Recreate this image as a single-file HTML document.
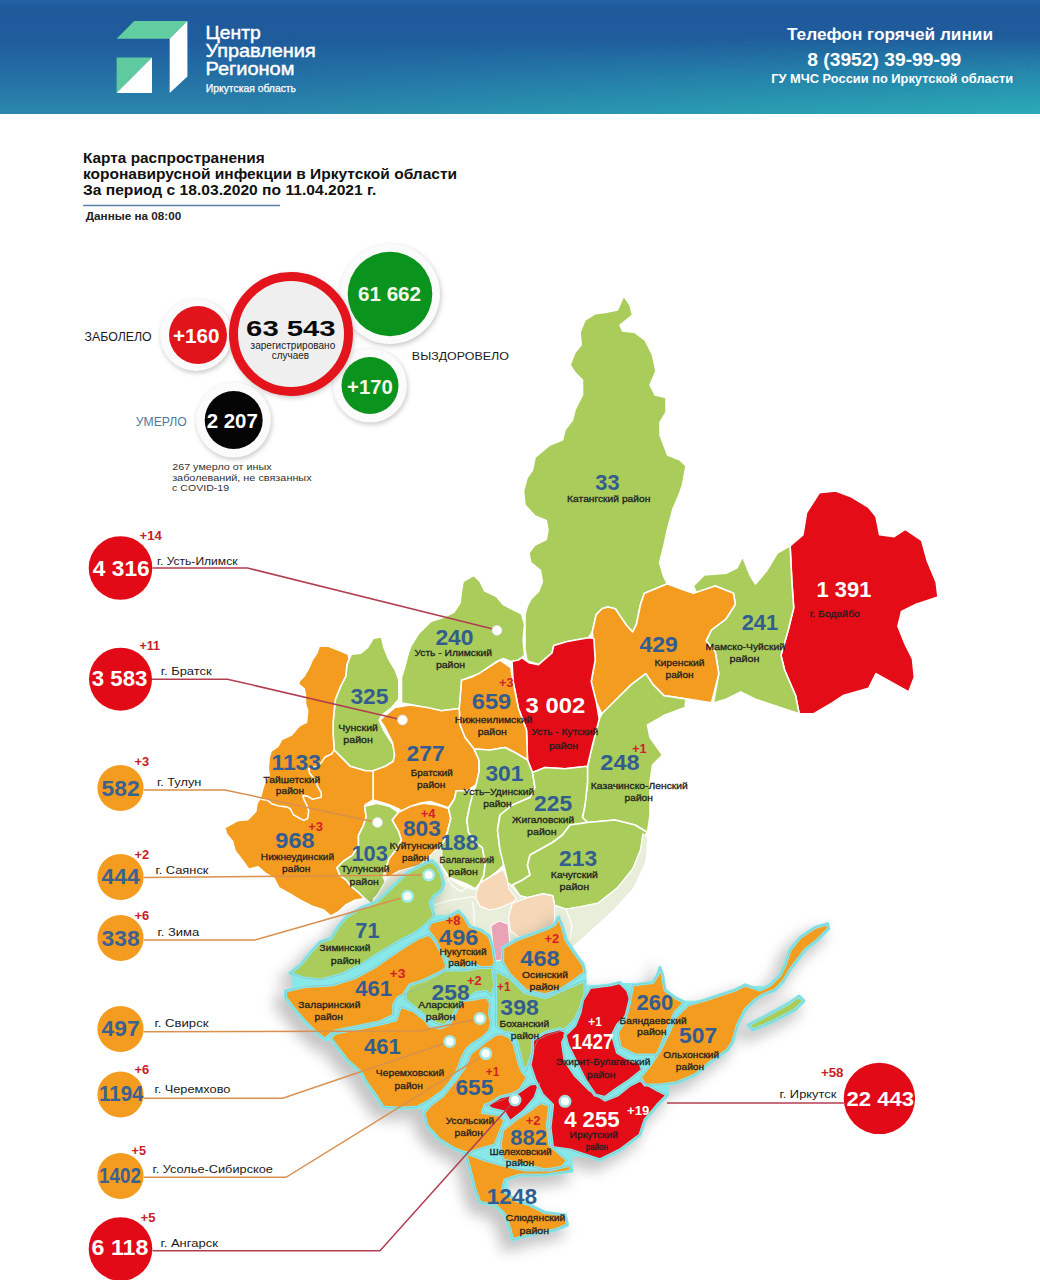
<!DOCTYPE html><html><head><meta charset="utf-8"><style>html,body{margin:0;padding:0;background:#fff;width:1040px;height:1280px;overflow:hidden}svg{display:block}.n{font-family:"Liberation Sans",sans-serif;font-weight:bold;font-size:20px;text-anchor:middle}.d{font-family:"Liberation Sans",sans-serif;font-size:10px;fill:#2a2a2a;text-anchor:middle}.p{font-family:"Liberation Sans",sans-serif;font-weight:bold;font-size:11px;text-anchor:middle}text{font-family:"Liberation Sans",sans-serif}</style></head><body>
<svg width="1040" height="1280" viewBox="0 0 1040 1280">
<defs>
<linearGradient id="hg" x1="0" y1="0" x2="0" y2="1">
<stop offset="0" stop-color="#2563a3"/><stop offset="0.06" stop-color="#1f5a9b"/><stop offset="0.35" stop-color="#1f5c9c"/><stop offset="0.7" stop-color="#2472a6"/><stop offset="1" stop-color="#2a88ab"/>
</linearGradient>
<linearGradient id="hg2" gradientUnits="userSpaceOnUse" x1="0" y1="35" x2="0" y2="114">
<stop offset="0" stop-color="#2ab2b8" stop-opacity="0"/><stop offset="1" stop-color="#2ab2b8" stop-opacity="0.8"/>
</linearGradient>
<linearGradient id="hmg" gradientUnits="userSpaceOnUse" x1="250" y1="0" x2="1040" y2="0">
<stop offset="0" stop-color="#000"/><stop offset="1" stop-color="#fff"/>
</linearGradient>
<mask id="hmask"><rect x="0" y="0" width="1040" height="114" fill="url(#hmg)"/></mask>
<filter id="closef" filterUnits="userSpaceOnUse" x="200" y="800" width="700" height="500"><feMorphology operator="dilate" radius="6"/><feMorphology operator="erode" radius="6"/></filter>
<filter id="sh" x="-30%" y="-30%" width="160%" height="160%"><feGaussianBlur stdDeviation="2.5"/></filter>
<filter id="msh" x="-20%" y="-20%" width="140%" height="140%"><feGaussianBlur stdDeviation="7"/></filter>
</defs>
<rect x="0" y="0" width="1040" height="114" fill="url(#hg)"/>
<rect x="0" y="0" width="1040" height="114" fill="url(#hg2)" mask="url(#hmask)"/>
<polygon points="116.6,38.8 134.2,21.1 187.4,21.1 169.7,38.8" fill="#62cda0"/>
<polygon points="187.4,21.1 187.4,76.4 169.7,93 169.7,38.8" fill="#ffffff"/>
<polygon points="116.6,57.6 152,57.6 116.6,93" fill="#5fcaa0"/>
<polygon points="152,57.6 152,93 116.6,93" fill="#ffffff"/>
<text stroke="#fff" stroke-width="0.45" x="233.10" y="39" font-size="19" fill="#fff" text-anchor="middle" textLength="55.32" lengthAdjust="spacingAndGlyphs">Центр</text>
<text stroke="#fff" stroke-width="0.45" x="260.60" y="57" font-size="19" fill="#fff" text-anchor="middle" textLength="110.32" lengthAdjust="spacingAndGlyphs">Управления</text>
<text stroke="#fff" stroke-width="0.45" x="249.95" y="74.5" font-size="19" fill="#fff" text-anchor="middle" textLength="89.02" lengthAdjust="spacingAndGlyphs">Регионом</text>
<text stroke="#fff" stroke-width="0.25" x="250.90" y="92" font-size="10" fill="#fff" text-anchor="middle" textLength="90.20" lengthAdjust="spacingAndGlyphs">Иркутская область</text>
<text x="890.00" y="40.3" font-size="16" font-weight="bold" fill="#fff" text-anchor="middle" textLength="206.08" lengthAdjust="spacingAndGlyphs">Телефон горячей линии</text>
<text x="884.30" y="65.7" font-size="18" font-weight="bold" fill="#fff" text-anchor="middle" textLength="154.04" lengthAdjust="spacingAndGlyphs">8 (3952) 39-99-99</text>
<text x="892.15" y="82.7" font-size="12" font-weight="bold" fill="#fff" text-anchor="middle" textLength="241.86" lengthAdjust="spacingAndGlyphs">ГУ МЧС России по Иркутской области</text>
<text x="173.85" y="162.5" font-size="14" font-weight="bold" fill="#111" text-anchor="middle" textLength="181.82" lengthAdjust="spacingAndGlyphs">Карта распространения</text>
<text x="270.00" y="178.5" font-size="14" font-weight="bold" fill="#111" text-anchor="middle" textLength="374.12" lengthAdjust="spacingAndGlyphs">коронавирусной инфекции в Иркутской области</text>
<text x="229.65" y="195" font-size="14" font-weight="bold" fill="#111" text-anchor="middle" textLength="293.42" lengthAdjust="spacingAndGlyphs">За период с 18.03.2020 по 11.04.2021 г.</text>
<line x1="83" y1="205.5" x2="280" y2="205.5" stroke="#5a80a8" stroke-width="1.5"/>
<text x="133.50" y="220" font-size="10.5" font-weight="bold" fill="#222" text-anchor="middle" textLength="95.44" lengthAdjust="spacingAndGlyphs">Данные на 08:00</text>
<circle cx="391" cy="296" r="50" fill="#9a9a9a" opacity="0.55" filter="url(#sh)"/><circle cx="390" cy="294" r="50" fill="#fbfbfb"/>
<circle cx="371" cy="387.5" r="37" fill="#9a9a9a" opacity="0.55" filter="url(#sh)"/><circle cx="370" cy="385.5" r="37" fill="#fbfbfb"/>
<circle cx="197" cy="337" r="36" fill="#9a9a9a" opacity="0.55" filter="url(#sh)"/><circle cx="196" cy="335" r="36" fill="#fbfbfb"/>
<circle cx="234.5" cy="422" r="37.5" fill="#9a9a9a" opacity="0.55" filter="url(#sh)"/><circle cx="233.5" cy="420" r="37.5" fill="#fbfbfb"/>
<circle cx="390" cy="294" r="42.3" fill="#0b941d"/>
<circle cx="370" cy="385.5" r="28.5" fill="#0b941d"/>
<circle cx="198" cy="335" r="29" fill="#e1141c"/>
<circle cx="233.7" cy="420" r="29" fill="#050505"/>
<circle cx="292" cy="336" r="62" fill="#999" opacity="0.5" filter="url(#sh)"/>
<circle cx="291" cy="334" r="57.5" fill="#efefef" stroke="#e3141c" stroke-width="9"/>
<text x="196.25" y="343.3" font-size="20" font-weight="bold" fill="#fff" text-anchor="middle" textLength="46.50" lengthAdjust="spacingAndGlyphs">+160</text>
<text x="290.90" y="335.8" font-size="22" font-weight="bold" fill="#0a0a0a" text-anchor="middle" textLength="89.56" lengthAdjust="spacingAndGlyphs">63 543</text>
<text x="292.90" y="349" font-size="11" fill="#222" text-anchor="middle" textLength="84.68" lengthAdjust="spacingAndGlyphs">зарегистрировано</text>
<text x="290.40" y="359" font-size="11" fill="#222" text-anchor="middle" textLength="37.28" lengthAdjust="spacingAndGlyphs">случаев</text>
<text x="389.52" y="301.4" font-size="20" font-weight="bold" fill="#f4f8ea" text-anchor="middle" textLength="63.15" lengthAdjust="spacingAndGlyphs">61 662</text>
<text x="370.00" y="393.7" font-size="20" font-weight="bold" fill="#f4f8ea" text-anchor="middle" textLength="45.80" lengthAdjust="spacingAndGlyphs">+170</text>
<text x="232.25" y="428" font-size="20" font-weight="bold" fill="#fff" text-anchor="middle" textLength="51.10" lengthAdjust="spacingAndGlyphs">2 207</text>
<text x="118.12" y="340.5" font-size="12" fill="#1a1a1a" text-anchor="middle" textLength="67.21" lengthAdjust="spacingAndGlyphs">ЗАБОЛЕЛО</text>
<text x="460.40" y="359.6" font-size="11.5" fill="#1a1a1a" text-anchor="middle" textLength="97.12" lengthAdjust="spacingAndGlyphs">ВЫЗДОРОВЕЛО</text>
<text x="161.25" y="426.25" font-size="12" fill="#4d77a0" text-anchor="middle" textLength="50.96" lengthAdjust="spacingAndGlyphs">УМЕРЛО</text>
<text x="221.88" y="470" font-size="9" fill="#333" text-anchor="middle" textLength="99.47" lengthAdjust="spacingAndGlyphs">267  умерло от иных</text>
<text x="241.88" y="480.5" font-size="9" fill="#333" text-anchor="middle" textLength="139.47" lengthAdjust="spacingAndGlyphs">заболеваний, не связанных</text>
<text x="200.62" y="490.5" font-size="9" fill="#333" text-anchor="middle" textLength="56.97" lengthAdjust="spacingAndGlyphs">с COVID-19</text>
<g stroke="#ffffff" stroke-width="1.6" stroke-linejoin="round">
<polygon points="623.7,296 630,305 632.5,315 620,325 622.5,331 635,332.5 645,340 652.5,355 656,371 650,385 655,395 666,397.5 666,412.5 660,422.5 660,435 667.5,455 680,460 686,466 682.5,485 678.8,495.4 673,508.8 667.3,530 663.5,547.3 659.6,562.7 663.5,576 667.3,583.8 644.2,593.5 640.4,605 636.5,624.2 632.7,632 627,626 619.2,614.6 615.4,608.8 607.7,607 602,608.8 596.2,614.6 592.3,632 588.5,637.7 567.3,641.5 553.8,645.4 552,653 538.5,664.6 527,660.8 525,649.2 525,633.8 525,614.6 527,607 530.8,599.2 538.5,591.5 542.3,582 540.4,570.4 530.8,562.7 528.8,553 534.6,545.4 546.2,539.6 548,530 546.2,520.4 535,516 525,505 523.5,491 527,478 532.5,470 535,457.5 550,445 562.5,440 565,430 572.5,420 575,410 582.5,395 582.5,380 575,372.5 570,365 575,352.5 581.2,345 580,332.5 585,320 595,313.7 605,312.5 617.5,310" fill="#a9cc5b"/>
<polygon points="819.3,492.8 835.8,491 850.4,496.4 868.6,507.4 876,516.5 879.6,534.8 894.2,536.6 905.2,529.3 921.6,540.3 927.1,560.4 936.2,582.3 938,596.9 916.1,604.2 901.5,611.5 897.9,626.1 905.2,644.4 912.5,659 914.3,677.3 908.8,691.9 876,673.6 868.6,688.3 843.1,695.6 832.1,702.9 813.8,713.8 799.2,713.8 795.6,695.6 784.6,670 781,655.4 788.3,629.8 793.7,607.9 791.9,582.3 790.1,545.8 802.9,534.8 806.5,512.9" fill="#e30c17"/>
<polygon points="790.1,545.8 777.3,553 766.3,571.3 755.4,584 749.9,575 742.6,556.7 737.1,567.7 726.1,573.2 704.2,575 693.3,586 696.9,593.3 715.2,586 733.5,593.3 735.3,604.2 726.1,618.8 711.5,629.8 706,640.8 715.2,651.7 718.8,673.6 713.4,702.9 726.1,699.2 740.8,691.9 755.4,699.2 777.3,706.5 799.2,713.8 795.6,695.6 784.6,670 781,655.4 788.3,629.8 793.7,607.9 791.9,582.3" fill="#a9cc5b"/>
<polygon points="667.3,583.8 682.5,589.6 693.3,593.3 715.2,586 733.5,593.3 735.3,604.2 726.1,618.8 711.5,629.8 706,640.8 715.2,651.7 718.8,673.6 711.5,702.9 689.6,699.2 664,695.6 653.1,684.6 645.8,673.6 631.2,684.6 616.5,699.2 601.9,713.8 596.6,703.1 591.2,681.5 595.2,660 592.3,632 596.2,614.6 602,608.8 607.7,607 615.4,608.8 619.2,614.6 627,626 632.7,632 636.5,624.2 640.4,605 644.2,593.5" fill="#f39c1f"/>
<polygon points="601.9,713.8 616.5,699.2 631.2,684.6 645.8,673.6 653.1,684.6 664,695.6 686,699 685,707.5 665,715 647.5,725 650,737.5 662.5,755 652.5,765 650,782.5 650,815 647.5,832.5 635,825 615,820 587.5,822.5 582.5,817.5 585,805 587.5,782.5 587.5,766.2 592.5,745 599.2,719.2" fill="#a9cc5b"/>
<polygon points="512,661 521,657 528.8,662.7 538.5,664.6 552,653 553.8,645.4 567.3,641.5 588.5,637.7 593.9,638.5 595.2,660 591.2,681.5 596.6,703.1 599.2,719.2 592.5,745 587.5,766.2 565,768.7 545,767.5 532.5,772.5 527.5,760 526.5,730 518.5,708.5 513.1,681.5" fill="#e30c17"/>
<polygon points="461.5,680 472.3,676.9 487.7,667.7 500,660 510.8,667.7 513.1,681.5 518.5,708.5 526.5,730 527.5,760 515,752.5 505,747.5 490,750 474,749 465,737.5 460,725 459.2,708.5" fill="#f39c1f"/>
<polygon points="473.8,575.4 480,581.5 484.6,590.8 496.9,596.9 503.1,604.6 512.3,609.2 521.5,613.8 524.6,624.6 523.1,640 524.6,655.4 518.5,660 510.8,661.5 503.1,658.5 496.9,661.5 487.7,667.7 478.5,673.8 466.2,678.5 461.5,680 459.2,708.5 441.5,710.8 426.2,707.7 410.8,704.6 401.5,703.1 401.5,683.1 401.5,676.9 404.6,667.7 407.7,655.4 410.8,646.2 418.5,633.8 430.8,621.5 444.6,616.9 453.8,612.3 460,603.1 461.5,590.8 463.1,581.5" fill="#a9cc5b"/>
<polygon points="351.5,654.2 360.8,653.1 367.7,647.3 373.5,638.1 381.5,636.9 383.8,647.3 388.5,658.8 395.4,670.4 398.8,679.6 398.8,699.2 390.8,708.5 381.5,715.4 379.2,720 383.8,730.4 389.6,739.6 394.6,747 394.6,755.4 393.1,761.5 385.4,766.2 374.6,770.8 365.4,770.8 350,766.2 334.2,750 333.1,733.8 333.1,722.3 334.2,710.8 335.4,699.2 340,687.7 345.8,676.2 346.9,664.6 349.2,658.8" fill="#a9cc5b"/>
<polygon points="380,720 395,707.5 410,705 427.5,707.5 441.5,710.8 459.2,708.5 460,725 465,737.5 474,749 479,760 479.2,770.8 476.2,784.6 466.9,790.8 456.2,790.8 454.6,798.5 448.5,807.7 439.2,804.6 430,801.5 420.8,803.1 411.5,806.2 402.3,812.3 399.2,809.2 388.5,804.6 373.1,800 373.1,786.2 373.1,770.8 385.4,766.2 393.1,761.5 394.6,755.4 392.5,742.5 385,727.5" fill="#f39c1f"/>
<polygon points="319.2,646.2 328.5,646.2 340,650.8 348.1,654.2 349.2,658.8 346.9,664.6 345.8,676.2 340,687.7 335.4,699.2 334.2,710.8 333.1,722.3 333.1,733.8 334.2,750 350,766.2 365.4,770.8 373.1,770.8 373.1,800 365.4,804.6 364.6,806.2 366.2,816.9 363.1,826.2 358.5,835.4 358.5,846.2 352.3,855.4 343.1,861.5 336.9,867.7 340,875.4 346.2,880 350.8,886.2 358.5,892.3 364.6,898.5 355.4,900 346.2,904.6 338,912 331,916 323.8,910 312.3,906.2 300.8,900.4 289.2,893.5 278.8,887.7 274.2,878.5 266.2,873.8 258.1,866.9 248.8,869.2 243.1,861.2 235,850.8 232.7,841.5 226.9,834.6 224.6,827.7 237.3,820.8 247.7,819.6 255.8,811.5 256.9,803.5 260.6,797.3 262.5,789.6 264.4,783.8 269.2,775.2 268.3,768.5 269.2,756.9 271.2,751.2 277.9,746.3 281.7,739.6 291.5,735 299.6,725.8 306.5,722.3 307.7,710.8 305.4,703.8 305.4,694.6 304.2,688.8 298.5,684.2 299.6,680.8 304.2,676.2 308.8,668.1 312.3,660 316.9,653.1" fill="#f39c1f"/>
<polygon points="364.6,806.2 376.9,803.1 389.2,806.2 398.5,812.3 392.3,820 398.5,830.8 401.5,840 395.4,850.8 389.2,858.5 386.2,867.7 383.1,876.9 387.7,886.2 380,892.3 373.8,898.5 372.3,904.6 364.6,898.5 358.5,892.3 350.8,886.2 346.2,880 340,875.4 336.9,867.7 343.1,861.5 352.3,855.4 358.5,846.2 358.5,835.4 363.1,826.2 366.2,816.9" fill="#a9cc5b"/>
<polygon points="398.5,812.3 410.8,806.2 423.1,803.1 435.4,804.6 448.5,808.5 450.8,818.5 447.7,830.8 444.6,840 441.5,844.6 434.6,851.5 427.7,858.5 419.6,865.4 410.4,868.8 398.8,871.2 387.3,878 385,874.6 386.2,867.7 389.2,858.5 395.4,850.8 401.5,840 398.5,830.8 392.3,820" fill="#f39c1f"/>
<polygon points="448.5,808.5 454.6,798.5 456.2,790.8 466.9,790.8 473,793.8 470,804.6 466.9,820 468.5,832.3 474.6,841.5 482.3,847.7 485.4,863.1 483.8,875.4 480,883 475.2,888.8 466.5,884 449.2,877.3 441.5,866 441.5,844.6 444.6,840 447.7,830.8 450.8,818.5" fill="#a9cc5b"/>
<polygon points="474,749 490,750 505,747.5 515,752.5 527.5,760 532.5,772.5 535,787.5 530,797.5 512.5,805 500,815 497.5,830 500,850 505,860 503,865.8 497.3,871.5 489.6,877.3 480,883 483.8,875.4 485.4,863.1 482.3,847.7 474.6,841.5 468.5,832.3 466.9,820 470,804.6 473,793.8 476.2,784.6 479.2,770.8 479,760" fill="#a9cc5b"/>
<polygon points="532.5,772.5 545,767.5 565,768.7 587.5,766.2 587.5,782.5 585,805 582.5,817.5 587.5,822.5 570,825 562.5,835 552.5,842.5 530,855 527.5,865 530,875 522.5,880 512.5,885 508.8,888.8 507,879.2 505,870 500,850 497.5,830 500,815 512.5,805 530,797.5 535,787.5" fill="#a9cc5b"/>
<polygon points="587.5,822.5 615,820 635,825 647.5,832.5 642.7,838 640.8,849.2 633,868.5 617.7,887.7 598.5,903 579.6,907 566,909.2 554.6,905.4 552.7,895.8 543,893.8 527.7,897.7 520,895.8 512.5,885 522.5,880 530,875 527.5,865 530,855 552.5,842.5 562.5,835 570,825" fill="#a9cc5b"/>
</g>
<g stroke="#ffffff" stroke-width="1.6" fill="none" stroke-linejoin="round">
<polyline points="334.6,749.2 331.7,754 325,757 322.1,761.7 317.3,766.5 308.7,768.5 309.6,773.3 315.4,780 317.3,785.8 321.2,792.5 321.2,797.3 312.5,799.2 307.7,796.3 302.9,795.4 303.8,799.2 306.7,805 308.7,810.8 307.7,818.5 303.8,820.4 300,818.5 293.3,814.6 290.4,808.8 286.5,806.9 278.8,806 272.1,804 267.3,800.2 260.6,799.2"/>
</g>
<g stroke="#ffffff" stroke-width="1.2" stroke-linejoin="round">
<polygon points="372,904 387.3,878 398.8,871.2 419.6,865.4 434.6,851.5 441.5,844.6 441.5,866 448.5,878 462.3,886 473.8,889.6 485.4,882.7 490,878 510,884 520,895.8 527.7,897.7 543,893.8 552.7,895.8 554.6,905.4 566,909.2 579.6,907 598.5,903 617.7,887.7 633,868.5 640.8,849.2 642.7,833.8 648,838 646,862 634,888 614,910 592,930 572,948 560,935 540,960 500,965 470,965 430,950 400,940" fill="#e8eed9"/>
<polygon points="476,892.7 480,883 489.6,877.3 503,869.6 507,879.2 508.8,888.8 516.5,898.5 512.7,902.3 499.2,908 489.6,910 480,906 476,898.5" fill="#f6d8b8"/>
<polygon points="512.3,903.5 527.7,897.7 543,893.8 552.7,895.8 554.6,905.4 554.6,920.8 550.8,930.4 535.4,934.2 520,938 510.4,930.4 508.5,917" fill="#f6d8b8"/>
<polyline points="447.3,879.2 454,887 461.7,891.7 468.5,885" fill="none"/>
<polyline points="434,905.2 449.2,900.4 461.7,898.5 473.3,896.5 476,898.5" fill="none"/>
<polyline points="472.3,901.3 474,912 474.2,927.3" fill="none"/>
<polyline points="554.6,905.4 566,909.2 572,925 570,940" fill="none"/>
</g>
<g filter="url(#msh)" opacity="0.38" transform="translate(-7,8)">
<polygon points="432.3,860.8 436.9,865.4 441.5,874.6 443.8,883.8 441.5,890.8 434.6,895.4 430,902.3 432.3,909.2 434.6,916.2 427.7,923.1 419.6,930 410.4,935.8 398.8,941.5 387.3,948.5 375.8,955.4 362.9,964 343,974 320.9,980 303.2,978 289.9,973.2 301,964.3 309.8,953.3 320,942 330.8,938.5 338.5,926.2 346.2,917 361.5,907.7 370,904.6 376.9,901.2 383.8,895.4 389.6,889.6 395.4,883.8 401.2,878.1 408.1,872.3 416.2,867.7 425.4,863.1" fill="#666" stroke="#666" stroke-width="8"/>
<polygon points="285.5,990.9 305.4,986.4 331.9,985 354,978 376.1,966 387.3,958 404.6,946.5 418.5,938 429.2,934 436,942 442.5,953.3 446.9,966.5 438.1,979.8 424.8,986.4 407.1,993.1 398.3,997.5 393.8,1004.1 393.8,1015.2 380.6,1021.8 358.5,1026.2 336.3,1030.7 329.7,1035.1 325.3,1039.5 314.2,1030.7 303.2,1019.6 292.1,1006.3 285.5,997.5" fill="#666" stroke="#666" stroke-width="8"/>
<polygon points="430,922.5 445,918.8 458.5,911 464.2,917 470,926.5 481.5,930.4 489.2,936 493,947.7 495,963 492.5,967.5 480,967.5 470,962.5 465,970 450,962.5 440,950 435,940 427.5,930" fill="#666" stroke="#666" stroke-width="8"/>
<polygon points="405,992.5 410,985 425,980 445,970 465,970 480,967.5 492.5,967.5 495,985 491.5,996.3 485.8,991.5 476.2,992.5 466.5,999.2 458.8,1006 452.1,1018.5 444.4,1026 435.8,1023.3 430,1020.4 420,1012 410,1004 405,1000" fill="#666" stroke="#666" stroke-width="8"/>
<polygon points="329.7,1037.3 336.3,1032.9 358.5,1028.5 380.6,1024 396,1019.6 400.5,1006.3 413.7,1010.8 424.8,1019.6 430,1026 439.6,1028 449.2,1024.2 457,1008.8 463.7,1000.2 473.3,999.2 482.9,997.3 487.7,997.3 490.6,1004 489.6,1013.7 491.5,1023.3 489.6,1031 482.9,1037.7 473.3,1043.5 466.5,1049.2 461.7,1058.8 458,1069.4 452,1080.3 442.5,1091.2 430,1100.6 417.5,1107 398.7,1108.4 383,1107 377,1097.5 366,1082 361,1072.5 347,1060 336.3,1046.1" fill="#666" stroke="#666" stroke-width="8"/>
<polygon points="502.7,947.7 516,940 531.5,934.2 547,928.5 554.6,924.6 558.5,917 562.3,926.5 566.2,940 573.8,951.5 583.5,965 585,972.5 575,980 560,990 545,995 525,990 510,975 502.5,962.5" fill="#666" stroke="#666" stroke-width="8"/>
<polygon points="495,970 510,977.5 525,992.5 545,997.5 562.5,990 585,980 585,997.5 575,1020 565,1030 547.5,1035 537.5,1040 530,1060 526.2,1072.3 522.3,1064.6 519.4,1053 516.5,1041.5 512.7,1033.8 503.1,1032 495.4,1026.2 495.4,1008.8 495.4,989.6" fill="#666" stroke="#666" stroke-width="8"/>
<polygon points="496.3,1033.8 503.1,1033.8 510.8,1037.7 514.6,1045.4 516.5,1053 518.5,1061.7 522.3,1071.3 527.5,1077.5 520,1090 502.5,1100 485,1105 482.5,1112.5 500,1115 505,1120 500,1132.5 495,1145 477.5,1150 467.5,1153.7 455,1149 439.4,1139.7 427,1125.6 423.7,1113 430,1105.3 442.5,1096 455,1080.3 464,1068 470.4,1053 478.1,1047.3 487.7,1039.6" fill="#666" stroke="#666" stroke-width="8"/>
<polygon points="486,1106 500,1097 517,1093 530,1084 540,1083 535,1098 524,1111 510,1122 504,1112 492,1109" fill="#666" stroke="#666" stroke-width="8"/>
<polygon points="502.5,1130 515,1120 530,1110 540,1102.5 550,1105 547.5,1125 550,1145 567.5,1160 562.5,1167.5 545,1170 525,1165 502.5,1160 500,1145" fill="#666" stroke="#666" stroke-width="8"/>
<polygon points="465,1152.5 485,1160 502.5,1165 525,1170 550,1170 570,1165 572,1171 545,1175 520,1175 505,1180 502.5,1190 515,1200 530,1205 545,1212.5 565,1215 567.5,1225 555,1230 540,1232.5 520,1237.5 512.5,1240 510,1230 505,1215 495,1205 480,1202.5 475,1190 470,1170" fill="#666" stroke="#666" stroke-width="8"/>
<polygon points="532.5,1040 545,1032.5 560,1028.7 567.5,1032.5 562.5,1042.5 565,1060 575,1075 590,1090 605,1100 617.5,1095 630,1085 640,1080 657.5,1090 667.5,1095 657.5,1105 645,1120 640,1135 620,1150 600,1160 585,1155 570,1150 552.5,1147.5 550,1127.5 552.5,1105 542.5,1095 535,1080 530,1065 532.5,1052.5" fill="#666" stroke="#666" stroke-width="8"/>
<polygon points="590,987.5 610,985 620,982.5 627.5,990 632.5,1005 627.5,1015 617.5,1025 612.5,1035 617.5,1052.5 630,1060 640,1062.5 642.5,1070 630,1080 615,1090 605,1097.5 595,1095 585,1080 575,1060 567.5,1045 565,1035 575,1025 580,1012.5 582.5,1000" fill="#666" stroke="#666" stroke-width="8"/>
<polygon points="632.5,985 652.5,982.5 657.5,975 660,967.5 662.5,975 665,990 675,997.5 685,1002.5 675,1012.5 667.5,1030 657.5,1055 635,1055 620,1047.5 617.5,1032.5 625,1020 630,1000" fill="#666" stroke="#666" stroke-width="8"/>
<polygon points="640,1077.5 650,1065 660,1050 667.5,1035 675,1017.5 687.5,1005 705,1000 720,995 735,990 745,985 760,990 770,985 780,975 785,965 790,950 800,937.5 815,927.5 827.5,923.7 828.7,928.7 817.5,940 805,950 790,970 782.5,982.5 775,990 762.5,995 755,1000 745,1010 737.5,1025 732.5,1042.5 727.5,1050 710,1062.5 695,1075 677.5,1082.5 660,1085 645,1085" fill="#666" stroke="#666" stroke-width="8"/>
<polygon points="748,1025 771,1013 789,1003 799,996 804,1001 795,1010 774,1021 753,1030" fill="#666" stroke="#666" stroke-width="8"/>
</g>
<g filter="url(#closef)">
<polygon points="432.3,860.8 436.9,865.4 441.5,874.6 443.8,883.8 441.5,890.8 434.6,895.4 430,902.3 432.3,909.2 434.6,916.2 427.7,923.1 419.6,930 410.4,935.8 398.8,941.5 387.3,948.5 375.8,955.4 362.9,964 343,974 320.9,980 303.2,978 289.9,973.2 301,964.3 309.8,953.3 320,942 330.8,938.5 338.5,926.2 346.2,917 361.5,907.7 370,904.6 376.9,901.2 383.8,895.4 389.6,889.6 395.4,883.8 401.2,878.1 408.1,872.3 416.2,867.7 425.4,863.1" stroke="#88e8e8" fill="#88e8e8" stroke-width="3" stroke-linejoin="round"/>
<polygon points="285.5,990.9 305.4,986.4 331.9,985 354,978 376.1,966 387.3,958 404.6,946.5 418.5,938 429.2,934 436,942 442.5,953.3 446.9,966.5 438.1,979.8 424.8,986.4 407.1,993.1 398.3,997.5 393.8,1004.1 393.8,1015.2 380.6,1021.8 358.5,1026.2 336.3,1030.7 329.7,1035.1 325.3,1039.5 314.2,1030.7 303.2,1019.6 292.1,1006.3 285.5,997.5" stroke="#88e8e8" fill="#88e8e8" stroke-width="3" stroke-linejoin="round"/>
<polygon points="430,922.5 445,918.8 458.5,911 464.2,917 470,926.5 481.5,930.4 489.2,936 493,947.7 495,963 492.5,967.5 480,967.5 470,962.5 465,970 450,962.5 440,950 435,940 427.5,930" stroke="#88e8e8" fill="#88e8e8" stroke-width="3" stroke-linejoin="round"/>
<polygon points="405,992.5 410,985 425,980 445,970 465,970 480,967.5 492.5,967.5 495,985 491.5,996.3 485.8,991.5 476.2,992.5 466.5,999.2 458.8,1006 452.1,1018.5 444.4,1026 435.8,1023.3 430,1020.4 420,1012 410,1004 405,1000" stroke="#88e8e8" fill="#88e8e8" stroke-width="3" stroke-linejoin="round"/>
<polygon points="329.7,1037.3 336.3,1032.9 358.5,1028.5 380.6,1024 396,1019.6 400.5,1006.3 413.7,1010.8 424.8,1019.6 430,1026 439.6,1028 449.2,1024.2 457,1008.8 463.7,1000.2 473.3,999.2 482.9,997.3 487.7,997.3 490.6,1004 489.6,1013.7 491.5,1023.3 489.6,1031 482.9,1037.7 473.3,1043.5 466.5,1049.2 461.7,1058.8 458,1069.4 452,1080.3 442.5,1091.2 430,1100.6 417.5,1107 398.7,1108.4 383,1107 377,1097.5 366,1082 361,1072.5 347,1060 336.3,1046.1" stroke="#88e8e8" fill="#88e8e8" stroke-width="3" stroke-linejoin="round"/>
<polygon points="502.7,947.7 516,940 531.5,934.2 547,928.5 554.6,924.6 558.5,917 562.3,926.5 566.2,940 573.8,951.5 583.5,965 585,972.5 575,980 560,990 545,995 525,990 510,975 502.5,962.5" stroke="#88e8e8" fill="#88e8e8" stroke-width="3" stroke-linejoin="round"/>
<polygon points="495,970 510,977.5 525,992.5 545,997.5 562.5,990 585,980 585,997.5 575,1020 565,1030 547.5,1035 537.5,1040 530,1060 526.2,1072.3 522.3,1064.6 519.4,1053 516.5,1041.5 512.7,1033.8 503.1,1032 495.4,1026.2 495.4,1008.8 495.4,989.6" stroke="#88e8e8" fill="#88e8e8" stroke-width="3" stroke-linejoin="round"/>
<polygon points="496.3,1033.8 503.1,1033.8 510.8,1037.7 514.6,1045.4 516.5,1053 518.5,1061.7 522.3,1071.3 527.5,1077.5 520,1090 502.5,1100 485,1105 482.5,1112.5 500,1115 505,1120 500,1132.5 495,1145 477.5,1150 467.5,1153.7 455,1149 439.4,1139.7 427,1125.6 423.7,1113 430,1105.3 442.5,1096 455,1080.3 464,1068 470.4,1053 478.1,1047.3 487.7,1039.6" stroke="#88e8e8" fill="#88e8e8" stroke-width="3" stroke-linejoin="round"/>
<polygon points="486,1106 500,1097 517,1093 530,1084 540,1083 535,1098 524,1111 510,1122 504,1112 492,1109" stroke="#88e8e8" fill="#88e8e8" stroke-width="3" stroke-linejoin="round"/>
<polygon points="502.5,1130 515,1120 530,1110 540,1102.5 550,1105 547.5,1125 550,1145 567.5,1160 562.5,1167.5 545,1170 525,1165 502.5,1160 500,1145" stroke="#88e8e8" fill="#88e8e8" stroke-width="3" stroke-linejoin="round"/>
<polygon points="465,1152.5 485,1160 502.5,1165 525,1170 550,1170 570,1165 572,1171 545,1175 520,1175 505,1180 502.5,1190 515,1200 530,1205 545,1212.5 565,1215 567.5,1225 555,1230 540,1232.5 520,1237.5 512.5,1240 510,1230 505,1215 495,1205 480,1202.5 475,1190 470,1170" stroke="#88e8e8" fill="#88e8e8" stroke-width="3" stroke-linejoin="round"/>
<polygon points="532.5,1040 545,1032.5 560,1028.7 567.5,1032.5 562.5,1042.5 565,1060 575,1075 590,1090 605,1100 617.5,1095 630,1085 640,1080 657.5,1090 667.5,1095 657.5,1105 645,1120 640,1135 620,1150 600,1160 585,1155 570,1150 552.5,1147.5 550,1127.5 552.5,1105 542.5,1095 535,1080 530,1065 532.5,1052.5" stroke="#88e8e8" fill="#88e8e8" stroke-width="3" stroke-linejoin="round"/>
<polygon points="590,987.5 610,985 620,982.5 627.5,990 632.5,1005 627.5,1015 617.5,1025 612.5,1035 617.5,1052.5 630,1060 640,1062.5 642.5,1070 630,1080 615,1090 605,1097.5 595,1095 585,1080 575,1060 567.5,1045 565,1035 575,1025 580,1012.5 582.5,1000" stroke="#88e8e8" fill="#88e8e8" stroke-width="3" stroke-linejoin="round"/>
<polygon points="632.5,985 652.5,982.5 657.5,975 660,967.5 662.5,975 665,990 675,997.5 685,1002.5 675,1012.5 667.5,1030 657.5,1055 635,1055 620,1047.5 617.5,1032.5 625,1020 630,1000" stroke="#88e8e8" fill="#88e8e8" stroke-width="3" stroke-linejoin="round"/>
<polygon points="640,1077.5 650,1065 660,1050 667.5,1035 675,1017.5 687.5,1005 705,1000 720,995 735,990 745,985 760,990 770,985 780,975 785,965 790,950 800,937.5 815,927.5 827.5,923.7 828.7,928.7 817.5,940 805,950 790,970 782.5,982.5 775,990 762.5,995 755,1000 745,1010 737.5,1025 732.5,1042.5 727.5,1050 710,1062.5 695,1075 677.5,1082.5 660,1085 645,1085" stroke="#88e8e8" fill="#88e8e8" stroke-width="3" stroke-linejoin="round"/>
</g>
<polygon points="491,926 499,921 508,924 510,944 506,959 496,961 493,945" fill="#e8a3b6" stroke="#fff" stroke-width="1"/>
<g stroke="#86eaea" stroke-width="3.2" stroke-linejoin="round">
<polygon points="432.3,860.8 436.9,865.4 441.5,874.6 443.8,883.8 441.5,890.8 434.6,895.4 430,902.3 432.3,909.2 434.6,916.2 427.7,923.1 419.6,930 410.4,935.8 398.8,941.5 387.3,948.5 375.8,955.4 362.9,964 343,974 320.9,980 303.2,978 289.9,973.2 301,964.3 309.8,953.3 320,942 330.8,938.5 338.5,926.2 346.2,917 361.5,907.7 370,904.6 376.9,901.2 383.8,895.4 389.6,889.6 395.4,883.8 401.2,878.1 408.1,872.3 416.2,867.7 425.4,863.1" fill="#a9cc5b"/>
<polygon points="285.5,990.9 305.4,986.4 331.9,985 354,978 376.1,966 387.3,958 404.6,946.5 418.5,938 429.2,934 436,942 442.5,953.3 446.9,966.5 438.1,979.8 424.8,986.4 407.1,993.1 398.3,997.5 393.8,1004.1 393.8,1015.2 380.6,1021.8 358.5,1026.2 336.3,1030.7 329.7,1035.1 325.3,1039.5 314.2,1030.7 303.2,1019.6 292.1,1006.3 285.5,997.5" fill="#f39c1f"/>
<polygon points="430,922.5 445,918.8 458.5,911 464.2,917 470,926.5 481.5,930.4 489.2,936 493,947.7 495,963 492.5,967.5 480,967.5 470,962.5 465,970 450,962.5 440,950 435,940 427.5,930" fill="#f39c1f"/>
<polygon points="405,992.5 410,985 425,980 445,970 465,970 480,967.5 492.5,967.5 495,985 491.5,996.3 485.8,991.5 476.2,992.5 466.5,999.2 458.8,1006 452.1,1018.5 444.4,1026 435.8,1023.3 430,1020.4 420,1012 410,1004 405,1000" fill="#a9cc5b"/>
<polygon points="329.7,1037.3 336.3,1032.9 358.5,1028.5 380.6,1024 396,1019.6 400.5,1006.3 413.7,1010.8 424.8,1019.6 430,1026 439.6,1028 449.2,1024.2 457,1008.8 463.7,1000.2 473.3,999.2 482.9,997.3 487.7,997.3 490.6,1004 489.6,1013.7 491.5,1023.3 489.6,1031 482.9,1037.7 473.3,1043.5 466.5,1049.2 461.7,1058.8 458,1069.4 452,1080.3 442.5,1091.2 430,1100.6 417.5,1107 398.7,1108.4 383,1107 377,1097.5 366,1082 361,1072.5 347,1060 336.3,1046.1" fill="#f39c1f"/>
<polygon points="502.7,947.7 516,940 531.5,934.2 547,928.5 554.6,924.6 558.5,917 562.3,926.5 566.2,940 573.8,951.5 583.5,965 585,972.5 575,980 560,990 545,995 525,990 510,975 502.5,962.5" fill="#f39c1f"/>
<polygon points="495,970 510,977.5 525,992.5 545,997.5 562.5,990 585,980 585,997.5 575,1020 565,1030 547.5,1035 537.5,1040 530,1060 526.2,1072.3 522.3,1064.6 519.4,1053 516.5,1041.5 512.7,1033.8 503.1,1032 495.4,1026.2 495.4,1008.8 495.4,989.6" fill="#a9cc5b"/>
<polygon points="496.3,1033.8 503.1,1033.8 510.8,1037.7 514.6,1045.4 516.5,1053 518.5,1061.7 522.3,1071.3 527.5,1077.5 520,1090 502.5,1100 485,1105 482.5,1112.5 500,1115 505,1120 500,1132.5 495,1145 477.5,1150 467.5,1153.7 455,1149 439.4,1139.7 427,1125.6 423.7,1113 430,1105.3 442.5,1096 455,1080.3 464,1068 470.4,1053 478.1,1047.3 487.7,1039.6" fill="#f39c1f"/>
<polygon points="486,1106 500,1097 517,1093 530,1084 540,1083 535,1098 524,1111 510,1122 504,1112 492,1109" fill="#e30c17"/>
<polygon points="502.5,1130 515,1120 530,1110 540,1102.5 550,1105 547.5,1125 550,1145 567.5,1160 562.5,1167.5 545,1170 525,1165 502.5,1160 500,1145" fill="#f39c1f"/>
<polygon points="465,1152.5 485,1160 502.5,1165 525,1170 550,1170 570,1165 572,1171 545,1175 520,1175 505,1180 502.5,1190 515,1200 530,1205 545,1212.5 565,1215 567.5,1225 555,1230 540,1232.5 520,1237.5 512.5,1240 510,1230 505,1215 495,1205 480,1202.5 475,1190 470,1170" fill="#f39c1f"/>
<polygon points="532.5,1040 545,1032.5 560,1028.7 567.5,1032.5 562.5,1042.5 565,1060 575,1075 590,1090 605,1100 617.5,1095 630,1085 640,1080 657.5,1090 667.5,1095 657.5,1105 645,1120 640,1135 620,1150 600,1160 585,1155 570,1150 552.5,1147.5 550,1127.5 552.5,1105 542.5,1095 535,1080 530,1065 532.5,1052.5" fill="#e30c17"/>
<polygon points="590,987.5 610,985 620,982.5 627.5,990 632.5,1005 627.5,1015 617.5,1025 612.5,1035 617.5,1052.5 630,1060 640,1062.5 642.5,1070 630,1080 615,1090 605,1097.5 595,1095 585,1080 575,1060 567.5,1045 565,1035 575,1025 580,1012.5 582.5,1000" fill="#e30c17"/>
<polygon points="632.5,985 652.5,982.5 657.5,975 660,967.5 662.5,975 665,990 675,997.5 685,1002.5 675,1012.5 667.5,1030 657.5,1055 635,1055 620,1047.5 617.5,1032.5 625,1020 630,1000" fill="#f39c1f"/>
<polygon points="640,1077.5 650,1065 660,1050 667.5,1035 675,1017.5 687.5,1005 705,1000 720,995 735,990 745,985 760,990 770,985 780,975 785,965 790,950 800,937.5 815,927.5 827.5,923.7 828.7,928.7 817.5,940 805,950 790,970 782.5,982.5 775,990 762.5,995 755,1000 745,1010 737.5,1025 732.5,1042.5 727.5,1050 710,1062.5 695,1075 677.5,1082.5 660,1085 645,1085" fill="#f39c1f"/>
<polygon points="748,1025 771,1013 789,1003 799,996 804,1001 795,1010 774,1021 753,1030" fill="#a9cc5b"/>
</g>
<g stroke="#8fb0bd" stroke-width="0.8" fill="none" stroke-linejoin="round" opacity="0.7">
<polygon points="432.3,860.8 436.9,865.4 441.5,874.6 443.8,883.8 441.5,890.8 434.6,895.4 430,902.3 432.3,909.2 434.6,916.2 427.7,923.1 419.6,930 410.4,935.8 398.8,941.5 387.3,948.5 375.8,955.4 362.9,964 343,974 320.9,980 303.2,978 289.9,973.2 301,964.3 309.8,953.3 320,942 330.8,938.5 338.5,926.2 346.2,917 361.5,907.7 370,904.6 376.9,901.2 383.8,895.4 389.6,889.6 395.4,883.8 401.2,878.1 408.1,872.3 416.2,867.7 425.4,863.1"/>
<polygon points="285.5,990.9 305.4,986.4 331.9,985 354,978 376.1,966 387.3,958 404.6,946.5 418.5,938 429.2,934 436,942 442.5,953.3 446.9,966.5 438.1,979.8 424.8,986.4 407.1,993.1 398.3,997.5 393.8,1004.1 393.8,1015.2 380.6,1021.8 358.5,1026.2 336.3,1030.7 329.7,1035.1 325.3,1039.5 314.2,1030.7 303.2,1019.6 292.1,1006.3 285.5,997.5"/>
<polygon points="430,922.5 445,918.8 458.5,911 464.2,917 470,926.5 481.5,930.4 489.2,936 493,947.7 495,963 492.5,967.5 480,967.5 470,962.5 465,970 450,962.5 440,950 435,940 427.5,930"/>
<polygon points="405,992.5 410,985 425,980 445,970 465,970 480,967.5 492.5,967.5 495,985 491.5,996.3 485.8,991.5 476.2,992.5 466.5,999.2 458.8,1006 452.1,1018.5 444.4,1026 435.8,1023.3 430,1020.4 420,1012 410,1004 405,1000"/>
<polygon points="329.7,1037.3 336.3,1032.9 358.5,1028.5 380.6,1024 396,1019.6 400.5,1006.3 413.7,1010.8 424.8,1019.6 430,1026 439.6,1028 449.2,1024.2 457,1008.8 463.7,1000.2 473.3,999.2 482.9,997.3 487.7,997.3 490.6,1004 489.6,1013.7 491.5,1023.3 489.6,1031 482.9,1037.7 473.3,1043.5 466.5,1049.2 461.7,1058.8 458,1069.4 452,1080.3 442.5,1091.2 430,1100.6 417.5,1107 398.7,1108.4 383,1107 377,1097.5 366,1082 361,1072.5 347,1060 336.3,1046.1"/>
<polygon points="502.7,947.7 516,940 531.5,934.2 547,928.5 554.6,924.6 558.5,917 562.3,926.5 566.2,940 573.8,951.5 583.5,965 585,972.5 575,980 560,990 545,995 525,990 510,975 502.5,962.5"/>
<polygon points="495,970 510,977.5 525,992.5 545,997.5 562.5,990 585,980 585,997.5 575,1020 565,1030 547.5,1035 537.5,1040 530,1060 526.2,1072.3 522.3,1064.6 519.4,1053 516.5,1041.5 512.7,1033.8 503.1,1032 495.4,1026.2 495.4,1008.8 495.4,989.6"/>
<polygon points="496.3,1033.8 503.1,1033.8 510.8,1037.7 514.6,1045.4 516.5,1053 518.5,1061.7 522.3,1071.3 527.5,1077.5 520,1090 502.5,1100 485,1105 482.5,1112.5 500,1115 505,1120 500,1132.5 495,1145 477.5,1150 467.5,1153.7 455,1149 439.4,1139.7 427,1125.6 423.7,1113 430,1105.3 442.5,1096 455,1080.3 464,1068 470.4,1053 478.1,1047.3 487.7,1039.6"/>
<polygon points="486,1106 500,1097 517,1093 530,1084 540,1083 535,1098 524,1111 510,1122 504,1112 492,1109"/>
<polygon points="502.5,1130 515,1120 530,1110 540,1102.5 550,1105 547.5,1125 550,1145 567.5,1160 562.5,1167.5 545,1170 525,1165 502.5,1160 500,1145"/>
<polygon points="465,1152.5 485,1160 502.5,1165 525,1170 550,1170 570,1165 572,1171 545,1175 520,1175 505,1180 502.5,1190 515,1200 530,1205 545,1212.5 565,1215 567.5,1225 555,1230 540,1232.5 520,1237.5 512.5,1240 510,1230 505,1215 495,1205 480,1202.5 475,1190 470,1170"/>
<polygon points="532.5,1040 545,1032.5 560,1028.7 567.5,1032.5 562.5,1042.5 565,1060 575,1075 590,1090 605,1100 617.5,1095 630,1085 640,1080 657.5,1090 667.5,1095 657.5,1105 645,1120 640,1135 620,1150 600,1160 585,1155 570,1150 552.5,1147.5 550,1127.5 552.5,1105 542.5,1095 535,1080 530,1065 532.5,1052.5"/>
<polygon points="590,987.5 610,985 620,982.5 627.5,990 632.5,1005 627.5,1015 617.5,1025 612.5,1035 617.5,1052.5 630,1060 640,1062.5 642.5,1070 630,1080 615,1090 605,1097.5 595,1095 585,1080 575,1060 567.5,1045 565,1035 575,1025 580,1012.5 582.5,1000"/>
<polygon points="632.5,985 652.5,982.5 657.5,975 660,967.5 662.5,975 665,990 675,997.5 685,1002.5 675,1012.5 667.5,1030 657.5,1055 635,1055 620,1047.5 617.5,1032.5 625,1020 630,1000"/>
<polygon points="640,1077.5 650,1065 660,1050 667.5,1035 675,1017.5 687.5,1005 705,1000 720,995 735,990 745,985 760,990 770,985 780,975 785,965 790,950 800,937.5 815,927.5 827.5,923.7 828.7,928.7 817.5,940 805,950 790,970 782.5,982.5 775,990 762.5,995 755,1000 745,1010 737.5,1025 732.5,1042.5 727.5,1050 710,1062.5 695,1075 677.5,1082.5 660,1085 645,1085"/>
<polygon points="748,1025 771,1013 789,1003 799,996 804,1001 795,1010 774,1021 753,1030"/>
</g>
<polyline points="152.5,568 247.5,568 497,630" fill="none" stroke="#b23e52" stroke-width="1.5"/>
<polyline points="152,679.2 227.5,679.2 402.5,720" fill="none" stroke="#b23e52" stroke-width="1.5"/>
<polyline points="143.7,790 225,790 377.5,822.5" fill="none" stroke="#d9904f" stroke-width="1.5"/>
<polyline points="143.7,877.5 428.7,875" fill="none" stroke="#d9904f" stroke-width="1.5"/>
<polyline points="143.7,940 255,940 407.5,896.3" fill="none" stroke="#d9904f" stroke-width="1.5"/>
<polyline points="143.7,1031.7 420,1031 480,1018.5" fill="none" stroke="#d9904f" stroke-width="1.5"/>
<polyline points="143.7,1098.3 282.7,1098.3 449.7,1041.5" fill="none" stroke="#d9904f" stroke-width="1.5"/>
<polyline points="143.7,1177.3 286,1177.3 485.8,1053.6" fill="none" stroke="#d9904f" stroke-width="1.5"/>
<polyline points="152.5,1250.7 380,1250.7 515,1100" fill="none" stroke="#b23e52" stroke-width="1.5"/>
<circle cx="497" cy="630.4" r="5" fill="#ffffff" stroke="#d8d8d8" stroke-width="0.8"/>
<circle cx="402.5" cy="720" r="5" fill="#ffffff" stroke="#d8d8d8" stroke-width="0.8"/>
<circle cx="377.5" cy="822.5" r="5" fill="#ffffff" stroke="#d8d8d8" stroke-width="0.8"/>
<circle cx="428.7" cy="875" r="6.5" fill="#9fecec" opacity="0.95"/><circle cx="428.7" cy="875" r="4" fill="#ffffff"/>
<circle cx="407.5" cy="896.3" r="6.5" fill="#9fecec" opacity="0.95"/><circle cx="407.5" cy="896.3" r="4" fill="#ffffff"/>
<circle cx="480" cy="1018.5" r="6.5" fill="#9fecec" opacity="0.95"/><circle cx="480" cy="1018.5" r="4" fill="#ffffff"/>
<circle cx="449.7" cy="1041.5" r="6.5" fill="#9fecec" opacity="0.95"/><circle cx="449.7" cy="1041.5" r="4" fill="#ffffff"/>
<circle cx="485.8" cy="1053.6" r="6.5" fill="#9fecec" opacity="0.95"/><circle cx="485.8" cy="1053.6" r="4" fill="#ffffff"/>
<circle cx="515" cy="1100" r="6.5" fill="#9fecec" opacity="0.95"/><circle cx="515" cy="1100" r="4" fill="#ffffff"/>
<circle cx="565" cy="1101.3" r="6.5" fill="#9fecec" opacity="0.95"/><circle cx="565" cy="1101.3" r="4" fill="#ffffff"/>
<text x="607.50" y="490" font-size="22" font-weight="bold" fill="#335d8f" text-anchor="middle" textLength="24.26" lengthAdjust="spacingAndGlyphs">33</text>
<text stroke="#1f1f1f" stroke-width="0.3" x="608.75" y="502" font-size="9.8" fill="#1f1f1f" text-anchor="middle" textLength="83.28" lengthAdjust="spacingAndGlyphs">Катангский район</text>
<text x="844.00" y="596.9" font-size="22" font-weight="bold" fill="#ffffff" text-anchor="middle" textLength="54.76" lengthAdjust="spacingAndGlyphs">1 391</text>
<text stroke="#1f1f1f" stroke-width="0.3" x="834.85" y="617" font-size="9.8" fill="#1f1f1f" text-anchor="middle" textLength="50.08" lengthAdjust="spacingAndGlyphs">г. Бодайбо</text>
<text x="759.95" y="629.8" font-size="22" font-weight="bold" fill="#335d8f" text-anchor="middle" textLength="36.46" lengthAdjust="spacingAndGlyphs">241</text>
<text stroke="#1f1f1f" stroke-width="0.3" x="745.30" y="649.9" font-size="9.8" fill="#1f1f1f" text-anchor="middle" textLength="79.38" lengthAdjust="spacingAndGlyphs">Мамско-Чуйский</text>
<text stroke="#1f1f1f" stroke-width="0.3" x="744.40" y="661.6" font-size="9.8" fill="#1f1f1f" text-anchor="middle" textLength="29.98" lengthAdjust="spacingAndGlyphs">район</text>
<text x="658.55" y="651.7" font-size="22" font-weight="bold" fill="#335d8f" text-anchor="middle" textLength="38.26" lengthAdjust="spacingAndGlyphs">429</text>
<text stroke="#1f1f1f" stroke-width="0.3" x="679.55" y="666.3" font-size="9.8" fill="#1f1f1f" text-anchor="middle" textLength="50.08" lengthAdjust="spacingAndGlyphs">Киренский</text>
<text stroke="#1f1f1f" stroke-width="0.3" x="679.60" y="678.4" font-size="9.8" fill="#1f1f1f" text-anchor="middle" textLength="28.18" lengthAdjust="spacingAndGlyphs">район</text>
<text x="454.50" y="644.5" font-size="22" font-weight="bold" fill="#335d8f" text-anchor="middle" textLength="38.16" lengthAdjust="spacingAndGlyphs">240</text>
<text stroke="#1f1f1f" stroke-width="0.3" x="453.15" y="656.1" font-size="9.8" fill="#1f1f1f" text-anchor="middle" textLength="77.48" lengthAdjust="spacingAndGlyphs">Усть - Илимский</text>
<text stroke="#1f1f1f" stroke-width="0.3" x="450.55" y="668.1" font-size="9.8" fill="#1f1f1f" text-anchor="middle" textLength="29.28" lengthAdjust="spacingAndGlyphs">район</text>
<text x="491.55" y="708.5" font-size="22" font-weight="bold" fill="#335d8f" text-anchor="middle" textLength="39.46" lengthAdjust="spacingAndGlyphs">659</text>
<text stroke="#1f1f1f" stroke-width="0.3" x="493.55" y="722.5" font-size="9.8" fill="#1f1f1f" text-anchor="middle" textLength="77.48" lengthAdjust="spacingAndGlyphs">Нижнеилимский</text>
<text stroke="#1f1f1f" stroke-width="0.3" x="492.25" y="735.4" font-size="9.8" fill="#1f1f1f" text-anchor="middle" textLength="29.08" lengthAdjust="spacingAndGlyphs">район</text>
<text x="506.35" y="686.9" font-size="12" font-weight="bold" fill="#d4202a" text-anchor="middle" textLength="14.46" lengthAdjust="spacingAndGlyphs">+3</text>
<text x="555.45" y="712.5" font-size="22" font-weight="bold" fill="#ffffff" text-anchor="middle" textLength="59.66" lengthAdjust="spacingAndGlyphs">3 002</text>
<text stroke="#1f1f1f" stroke-width="0.3" x="564.90" y="735.2" font-size="9.8" fill="#1f1f1f" text-anchor="middle" textLength="66.78" lengthAdjust="spacingAndGlyphs">Усть - Кутский</text>
<text stroke="#1f1f1f" stroke-width="0.3" x="563.55" y="748.5" font-size="9.8" fill="#1f1f1f" text-anchor="middle" textLength="29.08" lengthAdjust="spacingAndGlyphs">район</text>
<text x="369.38" y="703.75" font-size="22" font-weight="bold" fill="#335d8f" text-anchor="middle" textLength="38.01" lengthAdjust="spacingAndGlyphs">325</text>
<text stroke="#1f1f1f" stroke-width="0.3" x="358.12" y="731.25" font-size="9.8" fill="#1f1f1f" text-anchor="middle" textLength="39.53" lengthAdjust="spacingAndGlyphs">Чунский</text>
<text stroke="#1f1f1f" stroke-width="0.3" x="358.12" y="743" font-size="9.8" fill="#1f1f1f" text-anchor="middle" textLength="29.53" lengthAdjust="spacingAndGlyphs">район</text>
<text x="296.25" y="770" font-size="22" font-weight="bold" fill="#335d8f" text-anchor="middle" textLength="49.26" lengthAdjust="spacingAndGlyphs">1133</text>
<text stroke="#1f1f1f" stroke-width="0.3" x="291.88" y="782.5" font-size="9.8" fill="#1f1f1f" text-anchor="middle" textLength="57.03" lengthAdjust="spacingAndGlyphs">Тайшетский</text>
<text stroke="#1f1f1f" stroke-width="0.3" x="290.00" y="793.75" font-size="9.8" fill="#1f1f1f" text-anchor="middle" textLength="28.28" lengthAdjust="spacingAndGlyphs">район</text>
<text x="425.62" y="761.25" font-size="22" font-weight="bold" fill="#335d8f" text-anchor="middle" textLength="38.01" lengthAdjust="spacingAndGlyphs">277</text>
<text stroke="#1f1f1f" stroke-width="0.3" x="431.88" y="775.5" font-size="9.8" fill="#1f1f1f" text-anchor="middle" textLength="42.03" lengthAdjust="spacingAndGlyphs">Братский</text>
<text stroke="#1f1f1f" stroke-width="0.3" x="431.25" y="787.5" font-size="9.8" fill="#1f1f1f" text-anchor="middle" textLength="28.28" lengthAdjust="spacingAndGlyphs">район</text>
<text x="620.00" y="770" font-size="22" font-weight="bold" fill="#335d8f" text-anchor="middle" textLength="39.26" lengthAdjust="spacingAndGlyphs">248</text>
<text stroke="#1f1f1f" stroke-width="0.3" x="639.38" y="788.75" font-size="9.8" fill="#1f1f1f" text-anchor="middle" textLength="97.03" lengthAdjust="spacingAndGlyphs">Казачинско-Ленский</text>
<text stroke="#1f1f1f" stroke-width="0.3" x="638.75" y="801.25" font-size="9.8" fill="#1f1f1f" text-anchor="middle" textLength="28.28" lengthAdjust="spacingAndGlyphs">район</text>
<text x="639.38" y="752.5" font-size="12" font-weight="bold" fill="#d4202a" text-anchor="middle" textLength="14.71" lengthAdjust="spacingAndGlyphs">+1</text>
<text x="504.38" y="781.25" font-size="22" font-weight="bold" fill="#335d8f" text-anchor="middle" textLength="38.01" lengthAdjust="spacingAndGlyphs">301</text>
<text stroke="#1f1f1f" stroke-width="0.3" x="498.75" y="795" font-size="9.8" fill="#1f1f1f" text-anchor="middle" textLength="70.78" lengthAdjust="spacingAndGlyphs">Усть–Удинский</text>
<text stroke="#1f1f1f" stroke-width="0.3" x="497.50" y="807" font-size="9.8" fill="#1f1f1f" text-anchor="middle" textLength="28.28" lengthAdjust="spacingAndGlyphs">район</text>
<text x="553.12" y="811.25" font-size="22" font-weight="bold" fill="#335d8f" text-anchor="middle" textLength="38.01" lengthAdjust="spacingAndGlyphs">225</text>
<text stroke="#1f1f1f" stroke-width="0.3" x="543.12" y="823" font-size="9.8" fill="#1f1f1f" text-anchor="middle" textLength="62.03" lengthAdjust="spacingAndGlyphs">Жигаловский</text>
<text stroke="#1f1f1f" stroke-width="0.3" x="541.88" y="835" font-size="9.8" fill="#1f1f1f" text-anchor="middle" textLength="29.53" lengthAdjust="spacingAndGlyphs">район</text>
<text x="295.00" y="847.5" font-size="22" font-weight="bold" fill="#335d8f" text-anchor="middle" textLength="39.26" lengthAdjust="spacingAndGlyphs">968</text>
<text stroke="#1f1f1f" stroke-width="0.3" x="297.50" y="860" font-size="9.8" fill="#1f1f1f" text-anchor="middle" textLength="73.28" lengthAdjust="spacingAndGlyphs">Нижнеудинский</text>
<text stroke="#1f1f1f" stroke-width="0.3" x="296.25" y="872" font-size="9.8" fill="#1f1f1f" text-anchor="middle" textLength="28.28" lengthAdjust="spacingAndGlyphs">район</text>
<text x="315.62" y="831.25" font-size="12" font-weight="bold" fill="#d4202a" text-anchor="middle" textLength="14.71" lengthAdjust="spacingAndGlyphs">+3</text>
<text x="421.88" y="836.25" font-size="22" font-weight="bold" fill="#335d8f" text-anchor="middle" textLength="38.01" lengthAdjust="spacingAndGlyphs">803</text>
<text stroke="#1f1f1f" stroke-width="0.3" x="416.25" y="848.75" font-size="9.8" fill="#1f1f1f" text-anchor="middle" textLength="53.28" lengthAdjust="spacingAndGlyphs">Куйтунский</text>
<text stroke="#1f1f1f" stroke-width="0.3" x="415.62" y="861.25" font-size="9.8" fill="#1f1f1f" text-anchor="middle" textLength="27.03" lengthAdjust="spacingAndGlyphs">район</text>
<text x="428.12" y="817.5" font-size="12" font-weight="bold" fill="#d4202a" text-anchor="middle" textLength="14.71" lengthAdjust="spacingAndGlyphs">+4</text>
<text x="369.60" y="860.8" font-size="22" font-weight="bold" fill="#335d8f" text-anchor="middle" textLength="36.36" lengthAdjust="spacingAndGlyphs">103</text>
<text stroke="#1f1f1f" stroke-width="0.3" x="365.35" y="872.3" font-size="9.8" fill="#1f1f1f" text-anchor="middle" textLength="48.48" lengthAdjust="spacingAndGlyphs">Тулунский</text>
<text stroke="#1f1f1f" stroke-width="0.3" x="364.25" y="884.6" font-size="9.8" fill="#1f1f1f" text-anchor="middle" textLength="29.28" lengthAdjust="spacingAndGlyphs">район</text>
<text x="459.38" y="850" font-size="22" font-weight="bold" fill="#335d8f" text-anchor="middle" textLength="38.01" lengthAdjust="spacingAndGlyphs">188</text>
<text stroke="#1f1f1f" stroke-width="0.3" x="466.88" y="862.5" font-size="9.8" fill="#1f1f1f" text-anchor="middle" textLength="54.53" lengthAdjust="spacingAndGlyphs">Балаганский</text>
<text stroke="#1f1f1f" stroke-width="0.3" x="463.12" y="874.5" font-size="9.8" fill="#1f1f1f" text-anchor="middle" textLength="29.53" lengthAdjust="spacingAndGlyphs">район</text>
<text x="578.12" y="866.25" font-size="22" font-weight="bold" fill="#335d8f" text-anchor="middle" textLength="38.01" lengthAdjust="spacingAndGlyphs">213</text>
<text stroke="#1f1f1f" stroke-width="0.3" x="574.38" y="877.5" font-size="9.8" fill="#1f1f1f" text-anchor="middle" textLength="47.03" lengthAdjust="spacingAndGlyphs">Качугский</text>
<text stroke="#1f1f1f" stroke-width="0.3" x="574.38" y="890" font-size="9.8" fill="#1f1f1f" text-anchor="middle" textLength="29.53" lengthAdjust="spacingAndGlyphs">район</text>
<text x="367.50" y="937.5" font-size="22" font-weight="bold" fill="#335d8f" text-anchor="middle" textLength="24.26" lengthAdjust="spacingAndGlyphs">71</text>
<text stroke="#1f1f1f" stroke-width="0.3" x="345.00" y="951.25" font-size="9.8" fill="#1f1f1f" text-anchor="middle" textLength="50.78" lengthAdjust="spacingAndGlyphs">Зиминский</text>
<text stroke="#1f1f1f" stroke-width="0.3" x="345.62" y="963.75" font-size="9.8" fill="#1f1f1f" text-anchor="middle" textLength="29.53" lengthAdjust="spacingAndGlyphs">район</text>
<text x="458.75" y="945" font-size="22" font-weight="bold" fill="#335d8f" text-anchor="middle" textLength="39.26" lengthAdjust="spacingAndGlyphs">496</text>
<text stroke="#1f1f1f" stroke-width="0.3" x="463.12" y="954.5" font-size="9.8" fill="#1f1f1f" text-anchor="middle" textLength="47.03" lengthAdjust="spacingAndGlyphs">Нукутский</text>
<text stroke="#1f1f1f" stroke-width="0.3" x="462.50" y="966.25" font-size="9.8" fill="#1f1f1f" text-anchor="middle" textLength="28.28" lengthAdjust="spacingAndGlyphs">район</text>
<text x="453.12" y="925" font-size="12" font-weight="bold" fill="#d4202a" text-anchor="middle" textLength="14.71" lengthAdjust="spacingAndGlyphs">+8</text>
<text x="540.00" y="966.25" font-size="22" font-weight="bold" fill="#335d8f" text-anchor="middle" textLength="39.26" lengthAdjust="spacingAndGlyphs">468</text>
<text stroke="#1f1f1f" stroke-width="0.3" x="545.00" y="977.5" font-size="9.8" fill="#1f1f1f" text-anchor="middle" textLength="45.78" lengthAdjust="spacingAndGlyphs">Осинский</text>
<text stroke="#1f1f1f" stroke-width="0.3" x="544.38" y="990" font-size="9.8" fill="#1f1f1f" text-anchor="middle" textLength="29.53" lengthAdjust="spacingAndGlyphs">район</text>
<text x="551.88" y="942.5" font-size="12" font-weight="bold" fill="#d4202a" text-anchor="middle" textLength="14.71" lengthAdjust="spacingAndGlyphs">+2</text>
<text x="373.75" y="995.5" font-size="22" font-weight="bold" fill="#335d8f" text-anchor="middle" textLength="36.76" lengthAdjust="spacingAndGlyphs">461</text>
<text stroke="#1f1f1f" stroke-width="0.3" x="329.38" y="1008" font-size="9.8" fill="#1f1f1f" text-anchor="middle" textLength="62.03" lengthAdjust="spacingAndGlyphs">Заларинский</text>
<text stroke="#1f1f1f" stroke-width="0.3" x="328.75" y="1020" font-size="9.8" fill="#1f1f1f" text-anchor="middle" textLength="28.28" lengthAdjust="spacingAndGlyphs">район</text>
<text x="397.50" y="977.5" font-size="12" font-weight="bold" fill="#d4202a" text-anchor="middle" textLength="15.96" lengthAdjust="spacingAndGlyphs">+3</text>
<text x="450.62" y="1000" font-size="22" font-weight="bold" fill="#335d8f" text-anchor="middle" textLength="38.01" lengthAdjust="spacingAndGlyphs">258</text>
<text stroke="#1f1f1f" stroke-width="0.3" x="441.25" y="1007.5" font-size="9.8" fill="#1f1f1f" text-anchor="middle" textLength="45.78" lengthAdjust="spacingAndGlyphs">Аларский</text>
<text stroke="#1f1f1f" stroke-width="0.3" x="440.62" y="1019.5" font-size="9.8" fill="#1f1f1f" text-anchor="middle" textLength="29.53" lengthAdjust="spacingAndGlyphs">район</text>
<text x="474.38" y="985" font-size="12" font-weight="bold" fill="#d4202a" text-anchor="middle" textLength="14.71" lengthAdjust="spacingAndGlyphs">+2</text>
<text x="519.62" y="1015" font-size="22" font-weight="bold" fill="#335d8f" text-anchor="middle" textLength="38.51" lengthAdjust="spacingAndGlyphs">398</text>
<text stroke="#1f1f1f" stroke-width="0.3" x="524.38" y="1027" font-size="9.8" fill="#1f1f1f" text-anchor="middle" textLength="49.53" lengthAdjust="spacingAndGlyphs">Боханский</text>
<text stroke="#1f1f1f" stroke-width="0.3" x="525.00" y="1038.75" font-size="9.8" fill="#1f1f1f" text-anchor="middle" textLength="28.28" lengthAdjust="spacingAndGlyphs">район</text>
<text x="503.75" y="991.25" font-size="12" font-weight="bold" fill="#d4202a" text-anchor="middle" textLength="13.46" lengthAdjust="spacingAndGlyphs">+1</text>
<text x="382.50" y="1053.75" font-size="22" font-weight="bold" fill="#335d8f" text-anchor="middle" textLength="36.76" lengthAdjust="spacingAndGlyphs">461</text>
<text stroke="#1f1f1f" stroke-width="0.3" x="410.00" y="1076.25" font-size="9.8" fill="#1f1f1f" text-anchor="middle" textLength="68.28" lengthAdjust="spacingAndGlyphs">Черемховский</text>
<text stroke="#1f1f1f" stroke-width="0.3" x="408.75" y="1088.75" font-size="9.8" fill="#1f1f1f" text-anchor="middle" textLength="28.28" lengthAdjust="spacingAndGlyphs">район</text>
<text x="655.00" y="1010" font-size="22" font-weight="bold" fill="#335d8f" text-anchor="middle" textLength="36.76" lengthAdjust="spacingAndGlyphs">260</text>
<text stroke="#1f1f1f" stroke-width="0.3" x="653.12" y="1023.75" font-size="9.8" fill="#1f1f1f" text-anchor="middle" textLength="67.03" lengthAdjust="spacingAndGlyphs">Баяндаевский</text>
<text stroke="#1f1f1f" stroke-width="0.3" x="651.88" y="1035" font-size="9.8" fill="#1f1f1f" text-anchor="middle" textLength="29.53" lengthAdjust="spacingAndGlyphs">район</text>
<text x="592.50" y="1048.75" font-size="22" font-weight="bold" fill="#ffffff" text-anchor="middle" textLength="41.76" lengthAdjust="spacingAndGlyphs">1427</text>
<text stroke="#1f1f1f" stroke-width="0.3" x="603.12" y="1065" font-size="9.8" fill="#1f1f1f" text-anchor="middle" textLength="94.53" lengthAdjust="spacingAndGlyphs">Эхирит-Булагатский</text>
<text stroke="#1f1f1f" stroke-width="0.3" x="601.25" y="1077.5" font-size="9.8" fill="#1f1f1f" text-anchor="middle" textLength="28.28" lengthAdjust="spacingAndGlyphs">район</text>
<text x="595.00" y="1026.25" font-size="12" font-weight="bold" fill="#ffffff" text-anchor="middle" textLength="13.46" lengthAdjust="spacingAndGlyphs">+1</text>
<text x="698.12" y="1042.5" font-size="22" font-weight="bold" fill="#335d8f" text-anchor="middle" textLength="38.01" lengthAdjust="spacingAndGlyphs">507</text>
<text stroke="#1f1f1f" stroke-width="0.3" x="691.25" y="1057.5" font-size="9.8" fill="#1f1f1f" text-anchor="middle" textLength="55.78" lengthAdjust="spacingAndGlyphs">Ольхонский</text>
<text stroke="#1f1f1f" stroke-width="0.3" x="690.00" y="1070" font-size="9.8" fill="#1f1f1f" text-anchor="middle" textLength="28.28" lengthAdjust="spacingAndGlyphs">район</text>
<text x="474.38" y="1095" font-size="22" font-weight="bold" fill="#335d8f" text-anchor="middle" textLength="38.01" lengthAdjust="spacingAndGlyphs">655</text>
<text stroke="#1f1f1f" stroke-width="0.3" x="470.00" y="1123.75" font-size="9.8" fill="#1f1f1f" text-anchor="middle" textLength="48.28" lengthAdjust="spacingAndGlyphs">Усольский</text>
<text stroke="#1f1f1f" stroke-width="0.3" x="468.75" y="1135.5" font-size="9.8" fill="#1f1f1f" text-anchor="middle" textLength="28.28" lengthAdjust="spacingAndGlyphs">район</text>
<text x="492.50" y="1075.5" font-size="12" font-weight="bold" fill="#d4202a" text-anchor="middle" textLength="13.46" lengthAdjust="spacingAndGlyphs">+1</text>
<text x="528.75" y="1145" font-size="22" font-weight="bold" fill="#335d8f" text-anchor="middle" textLength="36.76" lengthAdjust="spacingAndGlyphs">882</text>
<text stroke="#1f1f1f" stroke-width="0.3" x="520.62" y="1155" font-size="9.8" fill="#1f1f1f" text-anchor="middle" textLength="62.03" lengthAdjust="spacingAndGlyphs">Шелеховский</text>
<text stroke="#1f1f1f" stroke-width="0.3" x="520.00" y="1166.25" font-size="9.8" fill="#1f1f1f" text-anchor="middle" textLength="28.28" lengthAdjust="spacingAndGlyphs">район</text>
<text x="533.12" y="1125" font-size="12" font-weight="bold" fill="#d4202a" text-anchor="middle" textLength="14.71" lengthAdjust="spacingAndGlyphs">+2</text>
<text x="591.88" y="1127" font-size="22" font-weight="bold" fill="#ffffff" text-anchor="middle" textLength="55.51" lengthAdjust="spacingAndGlyphs">4 255</text>
<text stroke="#1f1f1f" stroke-width="0.3" x="593.75" y="1137.5" font-size="9.8" fill="#1f1f1f" text-anchor="middle" textLength="48.28" lengthAdjust="spacingAndGlyphs">Иркутский</text>
<text stroke="#1f1f1f" stroke-width="0.3" x="596.88" y="1150" font-size="9.8" fill="#1f1f1f" text-anchor="middle" textLength="22.03" lengthAdjust="spacingAndGlyphs">район</text>
<text x="638.12" y="1115" font-size="12" font-weight="bold" fill="#ffffff" text-anchor="middle" textLength="22.21" lengthAdjust="spacingAndGlyphs">+19</text>
<text x="511.88" y="1203.75" font-size="22" font-weight="bold" fill="#335d8f" text-anchor="middle" textLength="50.51" lengthAdjust="spacingAndGlyphs">1248</text>
<text stroke="#1f1f1f" stroke-width="0.3" x="535.62" y="1221.25" font-size="9.8" fill="#1f1f1f" text-anchor="middle" textLength="59.53" lengthAdjust="spacingAndGlyphs">Слюдянский</text>
<text stroke="#1f1f1f" stroke-width="0.3" x="534.38" y="1233.75" font-size="9.8" fill="#1f1f1f" text-anchor="middle" textLength="29.53" lengthAdjust="spacingAndGlyphs">район</text>
<circle cx="120.5" cy="568" r="31.8" fill="#e20a16"/>
<text x="121.25" y="575.5" font-size="22" font-weight="bold" fill="#fff" text-anchor="middle" textLength="56.76" lengthAdjust="spacingAndGlyphs">4 316</text>
<text x="150.62" y="540" font-size="12" font-weight="bold" fill="#c8202a" text-anchor="middle" textLength="22.21" lengthAdjust="spacingAndGlyphs">+14</text>
<text x="197.25" y="564.5" font-size="11.5" fill="#1a1a1a" text-anchor="middle" textLength="80.42" lengthAdjust="spacingAndGlyphs">г. Усть-Илимск</text>
<circle cx="120.5" cy="679.2" r="31.5" fill="#e20a16"/>
<text x="119.60" y="685.8" font-size="22" font-weight="bold" fill="#fff" text-anchor="middle" textLength="55.56" lengthAdjust="spacingAndGlyphs">3 583</text>
<text x="149.80" y="650.4" font-size="12" font-weight="bold" fill="#c8202a" text-anchor="middle" textLength="20.56" lengthAdjust="spacingAndGlyphs">+11</text>
<text x="186.25" y="675" font-size="11.5" fill="#1a1a1a" text-anchor="middle" textLength="50.92" lengthAdjust="spacingAndGlyphs">г. Братск</text>
<circle cx="120.5" cy="788" r="23.1" fill="#f39c1f"/>
<text x="120.62" y="795.5" font-size="22" font-weight="bold" fill="#3a6190" text-anchor="middle" textLength="38.01" lengthAdjust="spacingAndGlyphs">582</text>
<text x="141.88" y="766" font-size="12" font-weight="bold" fill="#c8202a" text-anchor="middle" textLength="14.71" lengthAdjust="spacingAndGlyphs">+3</text>
<text x="179.25" y="786" font-size="11.5" fill="#1a1a1a" text-anchor="middle" textLength="44.42" lengthAdjust="spacingAndGlyphs">г. Тулун</text>
<circle cx="120.5" cy="877" r="23.1" fill="#f39c1f"/>
<text x="120.62" y="883.75" font-size="22" font-weight="bold" fill="#3a6190" text-anchor="middle" textLength="38.01" lengthAdjust="spacingAndGlyphs">444</text>
<text x="141.88" y="858.75" font-size="12" font-weight="bold" fill="#c8202a" text-anchor="middle" textLength="14.71" lengthAdjust="spacingAndGlyphs">+2</text>
<text x="182.00" y="873.75" font-size="11.5" fill="#1a1a1a" text-anchor="middle" textLength="52.92" lengthAdjust="spacingAndGlyphs">г. Саянск</text>
<circle cx="120.5" cy="938" r="23.1" fill="#f39c1f"/>
<text x="120.62" y="946.25" font-size="22" font-weight="bold" fill="#3a6190" text-anchor="middle" textLength="38.01" lengthAdjust="spacingAndGlyphs">338</text>
<text x="141.88" y="920" font-size="12" font-weight="bold" fill="#c8202a" text-anchor="middle" textLength="14.71" lengthAdjust="spacingAndGlyphs">+6</text>
<text x="178.38" y="936" font-size="11.5" fill="#1a1a1a" text-anchor="middle" textLength="41.67" lengthAdjust="spacingAndGlyphs">г. Зима</text>
<circle cx="120.5" cy="1029" r="23.1" fill="#f39c1f"/>
<text x="120.62" y="1036.25" font-size="22" font-weight="bold" fill="#3a6190" text-anchor="middle" textLength="38.01" lengthAdjust="spacingAndGlyphs">497</text>
<text x="181.50" y="1027" font-size="11.5" fill="#1a1a1a" text-anchor="middle" textLength="53.92" lengthAdjust="spacingAndGlyphs">г. Свирск</text>
<circle cx="120.5" cy="1094.5" r="23.1" fill="#f39c1f"/>
<text x="121.25" y="1101.25" font-size="22" font-weight="bold" fill="#3a6190" text-anchor="middle" textLength="44.26" lengthAdjust="spacingAndGlyphs">1194</text>
<text x="141.88" y="1073.75" font-size="12" font-weight="bold" fill="#c8202a" text-anchor="middle" textLength="14.71" lengthAdjust="spacingAndGlyphs">+6</text>
<text x="192.50" y="1092.5" font-size="11.5" fill="#1a1a1a" text-anchor="middle" textLength="75.92" lengthAdjust="spacingAndGlyphs">г. Черемхово</text>
<circle cx="120.5" cy="1176" r="23.1" fill="#f39c1f"/>
<text x="120.00" y="1182.5" font-size="22" font-weight="bold" fill="#3a6190" text-anchor="middle" textLength="41.76" lengthAdjust="spacingAndGlyphs">1402</text>
<text x="138.75" y="1154.5" font-size="12" font-weight="bold" fill="#c8202a" text-anchor="middle" textLength="14.46" lengthAdjust="spacingAndGlyphs">+5</text>
<text x="212.75" y="1173" font-size="11.5" fill="#1a1a1a" text-anchor="middle" textLength="120.42" lengthAdjust="spacingAndGlyphs">г. Усолье-Сибирское</text>
<circle cx="120.5" cy="1249" r="31.8" fill="#e20a16"/>
<text x="120.00" y="1255" font-size="22" font-weight="bold" fill="#fff" text-anchor="middle" textLength="56.76" lengthAdjust="spacingAndGlyphs">6 118</text>
<text x="148.00" y="1222" font-size="12" font-weight="bold" fill="#c8202a" text-anchor="middle" textLength="14.96" lengthAdjust="spacingAndGlyphs">+5</text>
<text x="189.25" y="1247" font-size="11.5" fill="#1a1a1a" text-anchor="middle" textLength="57.42" lengthAdjust="spacingAndGlyphs">г. Ангарск</text>
<polyline points="843.9,1103 667,1103" fill="none" stroke="#b23e52" stroke-width="1.5"/>
<circle cx="879.4" cy="1098.4" r="35.7" fill="#e20a16"/>
<text x="880.25" y="1105.7" font-size="21" font-weight="bold" fill="#fff" text-anchor="middle" textLength="67.38" lengthAdjust="spacingAndGlyphs">22 443</text>
<text x="832.20" y="1077.2" font-size="12" font-weight="bold" fill="#c8202a" text-anchor="middle" textLength="22.56" lengthAdjust="spacingAndGlyphs">+58</text>
<text x="808.00" y="1098" font-size="11.5" fill="#1a1a1a" text-anchor="middle" textLength="56.92" lengthAdjust="spacingAndGlyphs">г. Иркутск</text>
</svg></body></html>
